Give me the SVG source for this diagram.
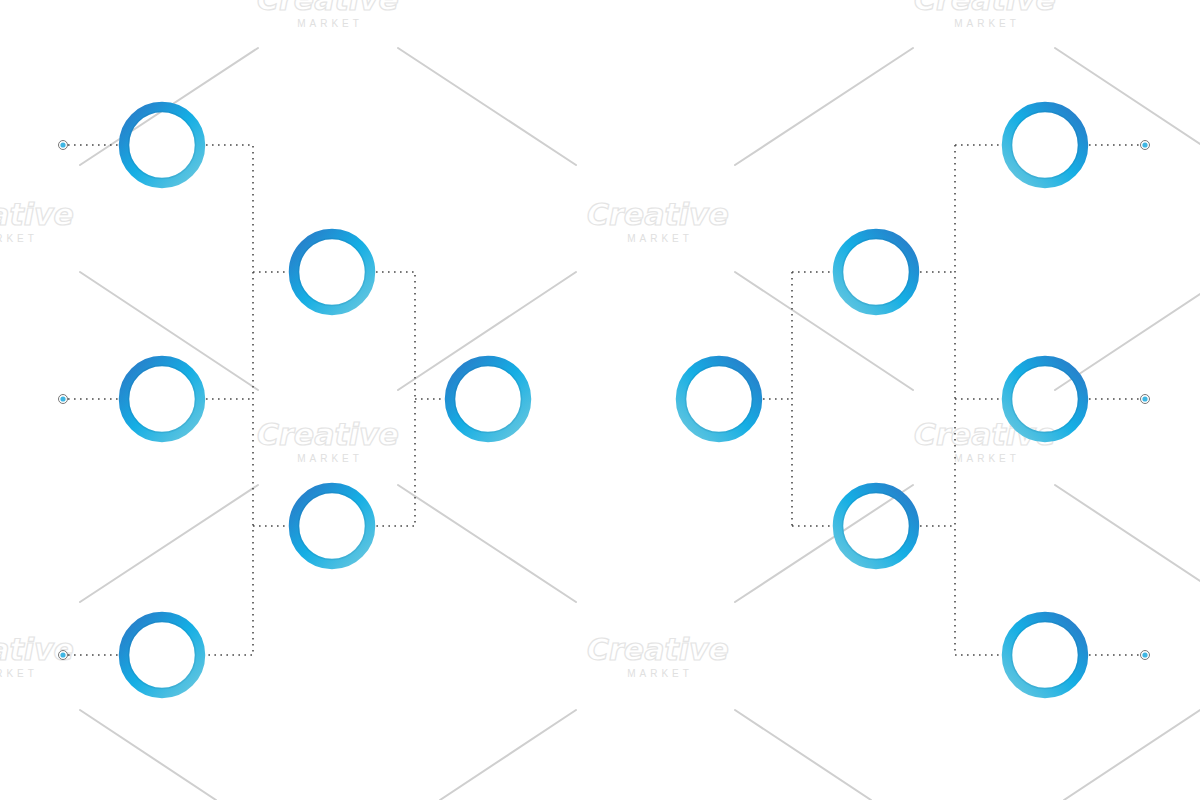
<svg xmlns="http://www.w3.org/2000/svg" width="1200" height="800" viewBox="0 0 1200 800">
<style>
.wm{stroke:#cfcfcf;stroke-width:2;fill:none;stroke-linecap:round}
.cr{font-family:"DejaVu Sans",sans-serif;font-weight:bold;font-style:italic;font-size:30px;fill:#ffffff;stroke:#e4e4e4;stroke-width:1.2;text-anchor:middle}
.mk{font-family:"Liberation Sans",sans-serif;font-size:10px;fill:#e0e0e0;letter-spacing:4px;text-anchor:middle}
.dl{stroke:#4a4a4a;stroke-width:1.6;stroke-dasharray:1.6 4.4;fill:none}
.ringL{fill:none;stroke:url(#gL);stroke-width:10.5}
.ringR{fill:none;stroke:url(#gR);stroke-width:10.5}
.sh{fill:none;stroke:#0b4f7a;stroke-opacity:0.12;stroke-width:1.5}
.pt{fill:#fff;stroke:#777;stroke-width:1}
.pc{fill:#3fb6e3}
</style>
<defs>
<linearGradient id="gL" x1="0" y1="0" x2="1" y2="1">
<stop offset="0" stop-color="#2a78c6"/>
<stop offset="0.5" stop-color="#15aee4"/>
<stop offset="1" stop-color="#6ac8df"/>
</linearGradient>
<linearGradient id="gR" x1="1" y1="0" x2="0" y2="1">
<stop offset="0" stop-color="#2a78c6"/>
<stop offset="0.5" stop-color="#15aee4"/>
<stop offset="1" stop-color="#6ac8df"/>
</linearGradient>
</defs>
<rect width="1200" height="800" fill="#ffffff"/>

<g id="watermark">
<line class="wm" x1="80" y1="165" x2="258" y2="48"/>
<line class="wm" x1="398" y1="48" x2="576" y2="165"/>
<line class="wm" x1="735" y1="165" x2="913" y2="48"/>
<line class="wm" x1="1055" y1="48" x2="1200" y2="144"/>
<line class="wm" x1="80" y1="272" x2="258" y2="390"/>
<line class="wm" x1="398" y1="390" x2="576" y2="272"/>
<line class="wm" x1="735" y1="272" x2="913" y2="390"/>
<line class="wm" x1="1055" y1="390" x2="1200" y2="294"/>
<line class="wm" x1="80" y1="602" x2="258" y2="485"/>
<line class="wm" x1="398" y1="485" x2="576" y2="602"/>
<line class="wm" x1="735" y1="602" x2="913" y2="485"/>
<line class="wm" x1="1055" y1="485" x2="1200" y2="581"/>
<line class="wm" x1="80" y1="710" x2="216" y2="800"/>
<line class="wm" x1="576" y1="710" x2="440" y2="800"/>
<line class="wm" x1="735" y1="710" x2="871" y2="800"/>
<line class="wm" x1="1200" y1="710" x2="1064" y2="800"/>
<text class="cr" x="328" y="10">Creative</text><text class="mk" x="330" y="27">MARKET</text>
<text class="cr" x="985" y="10">Creative</text><text class="mk" x="987" y="27">MARKET</text>
<text class="cr" x="658" y="225">Creative</text><text class="mk" x="660" y="242">MARKET</text>
<text class="cr" x="3" y="225">Creative</text><text class="mk" x="5" y="242">MARKET</text>
<text class="cr" x="328" y="445">Creative</text><text class="mk" x="330" y="462">MARKET</text>
<text class="cr" x="985" y="445">Creative</text><text class="mk" x="987" y="462">MARKET</text>
<text class="cr" x="658" y="660">Creative</text><text class="mk" x="660" y="677">MARKET</text>
<text class="cr" x="3" y="660">Creative</text><text class="mk" x="5" y="677">MARKET</text>
</g>

<g id="connectors">
<path class="dl" d="M68 145H119M68 399H119M68 655H119"/>
<path class="dl" d="M206 145H253V655H206M206 399H253M253 272H289M253 526H289"/>
<path class="dl" d="M376 272H415V526H376M415 399H445"/>
<path class="dl" d="M763 399H792M792 272V526M792 272H833M792 526H833"/>
<path class="dl" d="M920 272H955M920 526H955M955 145V655M955 145H1002M955 399H1002M955 655H1002"/>
<path class="dl" d="M1089 145H1140M1089 399H1140M1089 655H1140"/>
</g>

<g id="start-L1"><circle class="pt" cx="63" cy="145" r="4.5"/><circle class="pc" cx="63" cy="145" r="2.6"/></g>
<g id="start-L2"><circle class="pt" cx="63" cy="399" r="4.5"/><circle class="pc" cx="63" cy="399" r="2.6"/></g>
<g id="start-L3"><circle class="pt" cx="63" cy="655" r="4.5"/><circle class="pc" cx="63" cy="655" r="2.6"/></g>
<g id="start-R1"><circle class="pt" cx="1145" cy="145" r="4.5"/><circle class="pc" cx="1145" cy="145" r="2.6"/></g>
<g id="start-R2"><circle class="pt" cx="1145" cy="399" r="4.5"/><circle class="pc" cx="1145" cy="399" r="2.6"/></g>
<g id="start-R3"><circle class="pt" cx="1145" cy="655" r="4.5"/><circle class="pc" cx="1145" cy="655" r="2.6"/></g>

<g id="L-r1-a"><circle class="ringL" cx="162" cy="145" r="38"/><circle class="sh" cx="162" cy="145" r="33.5"/></g>
<g id="L-r1-b"><circle class="ringL" cx="162" cy="399" r="38"/><circle class="sh" cx="162" cy="399" r="33.5"/></g>
<g id="L-r1-c"><circle class="ringL" cx="162" cy="655" r="38"/><circle class="sh" cx="162" cy="655" r="33.5"/></g>
<g id="L-r2-a"><circle class="ringL" cx="332" cy="272" r="38"/><circle class="sh" cx="332" cy="272" r="33.5"/></g>
<g id="L-r2-b"><circle class="ringL" cx="332" cy="526" r="38"/><circle class="sh" cx="332" cy="526" r="33.5"/></g>
<g id="L-final"><circle class="ringL" cx="488" cy="399" r="38"/><circle class="sh" cx="488" cy="399" r="33.5"/></g>
<g id="R-final"><circle class="ringR" cx="719" cy="399" r="38"/><circle class="sh" cx="719" cy="399" r="33.5"/></g>
<g id="R-r2-a"><circle class="ringR" cx="876" cy="272" r="38"/><circle class="sh" cx="876" cy="272" r="33.5"/></g>
<g id="R-r2-b"><circle class="ringR" cx="876" cy="526" r="38"/><circle class="sh" cx="876" cy="526" r="33.5"/></g>
<g id="R-r1-a"><circle class="ringR" cx="1045" cy="145" r="38"/><circle class="sh" cx="1045" cy="145" r="33.5"/></g>
<g id="R-r1-b"><circle class="ringR" cx="1045" cy="399" r="38"/><circle class="sh" cx="1045" cy="399" r="33.5"/></g>
<g id="R-r1-c"><circle class="ringR" cx="1045" cy="655" r="38"/><circle class="sh" cx="1045" cy="655" r="33.5"/></g>
</svg>
